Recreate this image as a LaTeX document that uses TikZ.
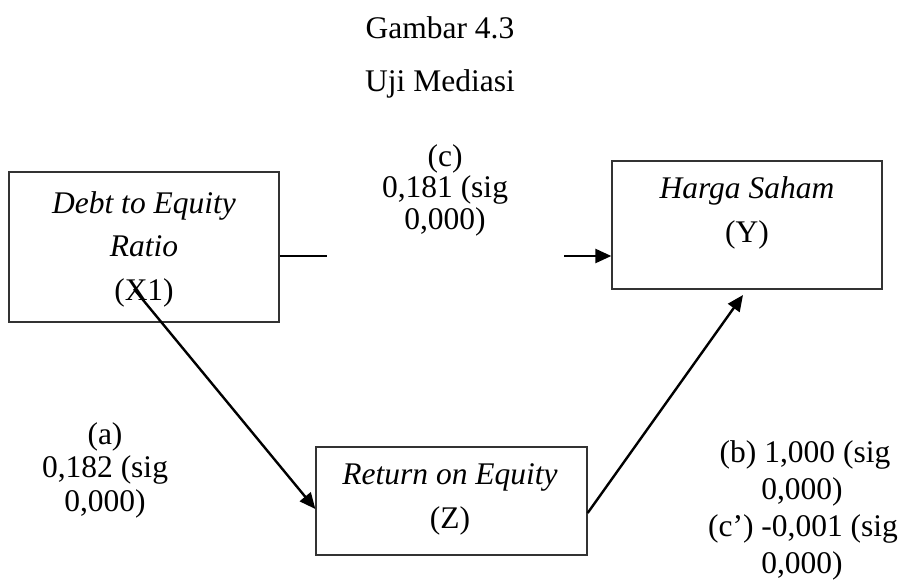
\documentclass[tikz,border=0pt]{standalone}
\usepackage{fontspec}
\setmainfont{Liberation Serif}
\usetikzlibrary{arrows.meta}
\begin{document}
\begin{tikzpicture}[x=1pt,y=-1pt,
  box/.style={draw=black!80,line width=1.3pt,rectangle,inner sep=0pt},
  tx/.style={inner sep=0pt,anchor=base,font=\fontsize{31.5}{36}\selectfont},
  conn/.style={line width=2.4pt},
  arr/.style={line width=2.4pt,-{Triangle[length=16pt,width=14pt]}}]
\useasboundingbox (0,0) rectangle (907,586);
% title
\node[tx] (t1) at (440,38) {Gambar 4.3};
\node[tx] (t2) at (440,92) {Uji Mediasi};
% boxes
\node[box,minimum width=270pt,minimum height=150pt] (X) at (144,247) {};
\node[box,minimum width=270pt,minimum height=128pt] (Y) at (747,225) {};
\node[box,minimum width=271pt,minimum height=108pt] (Z) at (451.5,501) {};
% box texts
\node[tx] (x1) at (144,213) {\textit{Debt to Equity}};
\node[tx] (x2) at (144,256.5) {\textit{Ratio}};
\node[tx] (x3) at (144,300) {(X1)};
\node[tx] (y1) at (747,198) {\textit{Harga Saham}};
\node[tx] (y2) at (747,242) {(Y)};
\node[tx] (z1) at (450,484) {\textit{Return on Equity}};
\node[tx] (z2) at (450,528) {(Z)};
% labels
\node[tx] (c1) at (445,166) {(c)};
\node[tx] (c2) at (445,197.5) {0,181 (sig};
\node[tx] (c3) at (445,229) {0,000)};
\node[tx] (a1) at (105,444) {(a)};
\node[tx] (a2) at (105,477.5) {0,182 (sig};
\node[tx] (a3) at (105,511) {0,000)};
\node[tx] (b1) at (805,462) {(b) 1,000 (sig};
\node[tx] (b2) at (802,499) {0,000)};
\node[tx] (b3) at (803,536) {(c’) -0,001 (sig};
\node[tx] (b4) at (802,573) {0,000)};
% connectors
\coordinate (h1) at (327,256);
\coordinate (h2) at (564,256);
\coordinate (s1) at (134,289);
\coordinate (e2) at (743,295);
\draw[conn] (X.east |- h1) -- (h1);
\draw[arr] (h2) -- (Y.west |- h2);
\draw[arr] (s1) -- (Z.west |- 0,509);
\draw[arr] (Z.east |- 0,513) -- (e2);
\end{tikzpicture}
\end{document}
